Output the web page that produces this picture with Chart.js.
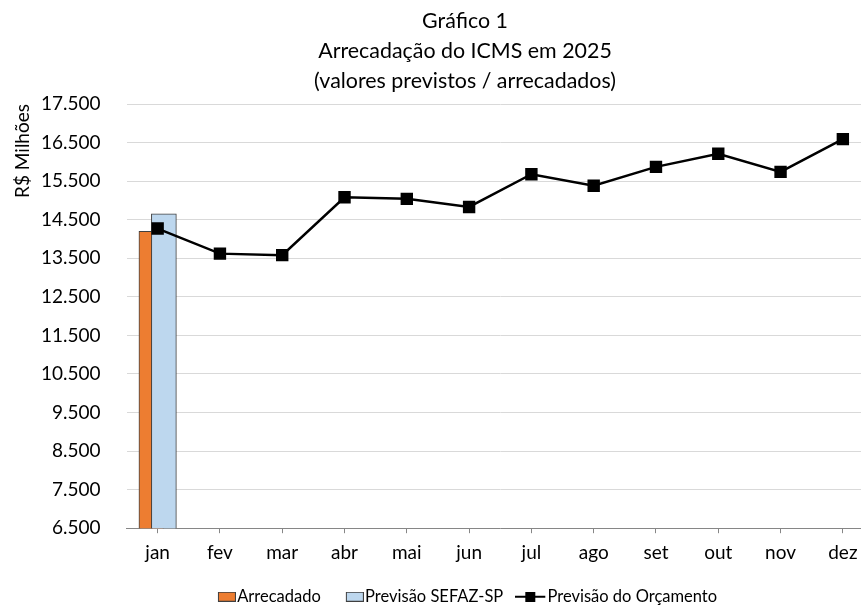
<!DOCTYPE html>
<html lang="pt-BR">
<head>
<meta charset="utf-8">
<title>Arrecadação do ICMS em 2025</title>
<script src="https://cdn.jsdelivr.net/npm/chart.js@4.4.1/dist/chart.umd.min.js"></script>
<style>
    html, body { margin: 0; padding: 0; background: #fff; overflow: hidden; }
    /* chart is a bit wider/taller than the window, the right edge is cut like the original */
    #wrap { position: relative; width: 861px; height: 606px; overflow: hidden; }
    #box { position: absolute; left: 0; top: 0; width: 930px; height: 615px; }
</style>
</head>
<body>
<div id="wrap"><div id="box"><canvas id="chart"></canvas></div></div>
<script>
// data (R$ milhões)
const months = ["jan", "fev", "mar", "abr", "mai", "jun", "jul", "ago", "set", "out", "nov", "dez"];
const arrecadado = [14200, null, null, null, null, null, null, null, null, null, null, null];
const previsaoSefaz = [14650, null, null, null, null, null, null, null, null, null, null, null];
const previsaoOrcamento = [14270, 13620, 13580, 15080, 15040, 14830, 15680, 15380, 15870, 16210, 15740, 16590];

const Y_MIN = 6500;
const Y_MAX = 17500;
const Y_STEP = 1000;

const titleLines = ["Gráfico 1", "Arrecadação do ICMS em 2025", "(valores previstos / arrecadados)"];
const yTitle = "R$ Milhões";
const seriesNames = ["Arrecadado", "Previsão SEFAZ-SP", "Previsão do Orçamento"];

const FONT = "Lato";
const ORANGE = "#ED7D31";
const BLUE = "#BDD7EE";
const EDGE = "#404040";

// bars overlap by half: each one sits on a hidden linear axis shifted 0.1 category
const BAR_SHIFT = 0.1;
const N = months.length;

Chart.defaults.font.family = FONT;
Chart.defaults.color = "#000";

// 17500 -> "17.500"
function fmt(v) {
    return String(v).replace(/\B(?=(\d{3})+(?!\d))/g, ".");
}

// month index -> x, value -> y (for the linear bar axes)
const toPoints = (arr) => arr.map((v, i) => ({ x: i, y: v }));

// legend keys, drawn on small canvases (transparent part keeps them next to the text)
function barKey(fill) {
    const cv = document.createElement("canvas");
    cv.width = 30;
    cv.height = 10;
    const g = cv.getContext("2d");
    g.fillStyle = fill;
    g.fillRect(12, 0, 18, 10);
    g.strokeStyle = EDGE;
    g.lineWidth = 1;
    g.strokeRect(12.5, 0.5, 17, 9);
    return cv;
}
function lineKey() {
    const cv = document.createElement("canvas");
    cv.width = 32;
    cv.height = 10;
    const g = cv.getContext("2d");
    g.strokeStyle = "#000";
    g.lineWidth = 2;
    g.beginPath();
    g.moveTo(0, 5);
    g.lineTo(30, 5);
    g.stroke();
    g.fillStyle = "#000";
    g.fillRect(10, 0, 10, 10);
    return cv;
}
const keys = [barKey(ORANGE), barKey(BLUE), lineKey()];

new Chart(document.getElementById("chart"), {
    type: "bar",
    data: {
        labels: months,
        datasets: [
            {
                label: seriesNames[0],
                data: toPoints(arrecadado),
                xAxisID: "xo",
                backgroundColor: ORANGE,
                borderColor: EDGE,
                borderWidth: 1,
                grouped: false,
                barThickness: 25,
                order: 2,
            },
            {
                label: seriesNames[1],
                data: toPoints(previsaoSefaz),
                xAxisID: "xs",
                backgroundColor: BLUE,
                borderColor: EDGE,
                borderWidth: 1,
                grouped: false,
                barThickness: 25,
                order: 1,
            },
            {
                type: "line",
                label: seriesNames[2],
                data: previsaoOrcamento,
                xAxisID: "x",
                borderColor: "#000",
                borderWidth: 2.5,
                pointStyle: "rect",
                pointRadius: 7,
                pointHoverRadius: 7,
                pointBackgroundColor: "#000",
                pointBorderColor: "#000",
                tension: 0,
                order: 0,
            },
        ],
    },
    options: {
        responsive: true,
        maintainAspectRatio: false,
        animation: false,
        layout: { padding: 0 },
        plugins: {
            tooltip: { enabled: false },
            title: {
                display: true,
                text: titleLines,
                color: "#000",
                font: { family: FONT, size: 21.4, weight: "normal", lineHeight: 30 / 21.4 },
                padding: { top: 6, bottom: 8 },
            },
            legend: {
                position: "bottom",
                labels: {
                    usePointStyle: true,
                    pointStyleWidth: 16,
                    padding: 20,
                    color: "#000",
                    font: { family: FONT, size: 16.5 },
                    generateLabels: (chart) =>
                        [0, 1, 2].map((i) => ({
                            text: chart.data.datasets[i].label,
                            pointStyle: keys[i],
                            fillStyle: "#000",
                            strokeStyle: "#000",
                            lineWidth: 0,
                            hidden: false,
                            datasetIndex: i,
                            fontColor: "#000",
                        })),
                },
            },
        },
        scales: {
            x: {
                type: "category",
                offset: true,
                grid: { offset: false, drawOnChartArea: false, drawTicks: true, tickLength: 5, color: "#868686" },
                border: { color: "#868686", width: 1 },
                ticks: { color: "#000", font: { size: 19 }, padding: 8 },
                afterFit: (s) => { s.height = 40.3; },
            },
            xo: {
                type: "linear",
                display: false,
                offset: false,
                min: -0.5 + BAR_SHIFT,
                max: N - 0.5 + BAR_SHIFT,
            },
            xs: {
                type: "linear",
                display: false,
                offset: false,
                min: -0.5 - BAR_SHIFT,
                max: N - 0.5 - BAR_SHIFT,
            },
            y: {
                min: Y_MIN,
                max: Y_MAX,
                grid: { color: "#d9d9d9", lineWidth: 1, drawTicks: false },
                border: { display: false },
                ticks: {
                    stepSize: Y_STEP,
                    padding: 26,
                    color: "#000",
                    font: { size: 19 },
                    callback: (v) => fmt(v),
                },
                title: {
                    display: true,
                    text: yTitle,
                    align: "end",
                    color: "#000",
                    font: { size: 19 },
                    padding: { top: 11, bottom: 0 },
                },
                afterFit: (s) => { s.width = 126.5; },
            },
            // empty right axis, only keeps the plot's right edge where the original has it
            yr: {
                type: "linear",
                position: "right",
                grid: { display: false },
                border: { display: false },
                ticks: { display: false },
                afterFit: (s) => { s.width = 56; },
            },
        },
    },
});
</script>
</body>
</html>
